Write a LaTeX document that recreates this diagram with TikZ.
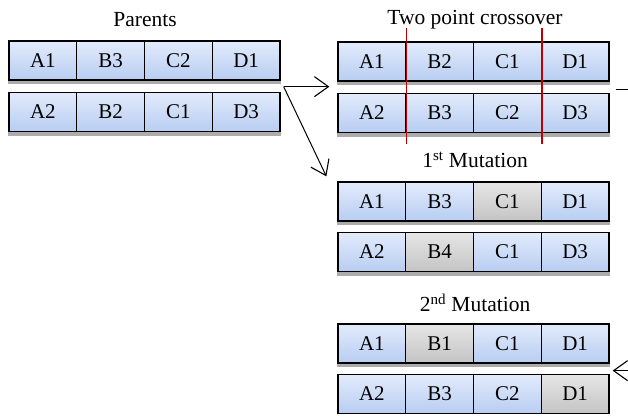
\documentclass[tikz,border=0pt]{standalone}
\usepackage{fontspec}
\setmainfont{Liberation Serif}
\usetikzlibrary{arrows.meta}
\definecolor{genetop}{HTML}{E2EBFB}
\definecolor{genebot}{HTML}{B8CDF2}
\definecolor{muttop}{HTML}{E6E6E6}
\definecolor{mutbot}{HTML}{C4C4C4}
\definecolor{cutred}{HTML}{C00000}
\tikzset{
  gene/.style={draw=black, line width=1.3pt, minimum width=67.75pt, minimum height=39pt,
    inner sep=0pt, top color=genetop, bottom color=genebot, font=\fontsize{21}{23}\selectfont},
  mutgene/.style={gene, top color=muttop, bottom color=mutbot},
  shade band/.style={fill=gray!65, draw=none},
  title/.style={font=\fontsize{21.5}{24}\selectfont, inner sep=0pt},
  link/.style={line width=1pt, -{Straight Barb[length=14pt,width=20pt,line width=1.1pt]}}
}
\begin{document}
\begin{tikzpicture}[x=1pt,y=-1pt]
\useasboundingbox (0,0) rectangle (628,415);
\clip (0,0) rectangle (628,415);

% Parents
\node[title] (tpar) at (145,20) {Parents};
\foreach \lab/\sty [count=\i] in {A1/gene,B3/gene,C2/gene,D1/gene}
  \node[\sty] (pa\i) at ({9+67.75*(\i-0.5)},60.5) {\lab};
\foreach \lab/\sty [count=\i] in {A2/gene,B2/gene,C1/gene,D3/gene}
  \node[\sty] (pb\i) at ({9+67.75*(\i-0.5)},112) {\lab};
\fill[shade band] (pa1.south west) rectangle ([yshift=-3.5pt]pa4.south east);
\fill[shade band] (pb1.south west) rectangle ([yshift=-3.5pt]pb4.south east);

% Two point crossover
\node[title] (tcross) at (475,20) {Two point crossover};
\foreach \lab/\sty [count=\i] in {A1/gene,B2/gene,C1/gene,D1/gene}
  \node[\sty] (ca\i) at ({338+67.75*(\i-0.5)},61.5) {\lab};
\foreach \lab/\sty [count=\i] in {A2/gene,B3/gene,C2/gene,D3/gene}
  \node[\sty] (cb\i) at ({338+67.75*(\i-0.5)},113) {\lab};
\fill[shade band] (ca1.south west) rectangle ([yshift=-3.5pt]ca4.south east);
\fill[shade band] (cb1.south west) rectangle ([yshift=-3.5pt]cb4.south east);
\draw[cutred, line width=1.3pt] ([yshift=13pt]ca1.north east) -- ([yshift=-11pt]cb1.south east);
\draw[cutred, line width=1.3pt] ([yshift=13pt]ca3.north east) -- ([yshift=-11pt]cb3.south east);

% 1st Mutation
\node[title] (tmut1) at (475,160) {1\textsuperscript{st} Mutation};
\foreach \lab/\sty [count=\i] in {A1/gene,B3/gene,C1/mutgene,D1/gene}
  \node[\sty] (ma\i) at ({338+67.75*(\i-0.5)},201.5) {\lab};
\foreach \lab/\sty [count=\i] in {A2/gene,B4/mutgene,C1/gene,D3/gene}
  \node[\sty] (mb\i) at ({338+67.75*(\i-0.5)},252) {\lab};
\fill[shade band] (ma1.south west) rectangle ([yshift=-3.5pt]ma4.south east);
\fill[shade band] (mb1.south west) rectangle ([yshift=-3.5pt]mb4.south east);

% 2nd Mutation
\node[title] (tmut2) at (475,303) {2\textsuperscript{nd} Mutation};
\foreach \lab/\sty [count=\i] in {A1/gene,B1/mutgene,C1/gene,D1/gene}
  \node[\sty] (na\i) at ({338+67.75*(\i-0.5)},343.5) {\lab};
\foreach \lab/\sty [count=\i] in {A2/gene,B3/gene,C2/gene,D1/mutgene}
  \node[\sty] (nb\i) at ({338+67.75*(\i-0.5)},394) {\lab};
\fill[shade band] (na1.south west) rectangle ([yshift=-3.5pt]na4.south east);

% Connectors
\coordinate (fork) at ([shift={(3pt,-6pt)}]pa4.south east);
\coordinate (crossin) at ([shift={(-8pt,-5pt)}]ca1.south west);
\coordinate (mutin) at ([shift={(-11pt,5pt)}]ma1.north west);
\coordinate (crossout) at ([shift={(6pt,-8pt)}]ca4.south east);
\coordinate (mutback) at ([shift={(3pt,-7pt)}]na4.south east);
\draw[link] (fork) -- (crossin);
\draw[link] (fork) -- (mutin);
\draw[link] (crossout) -- ++(40,0) |- (mutback);
\end{tikzpicture}
\end{document}
